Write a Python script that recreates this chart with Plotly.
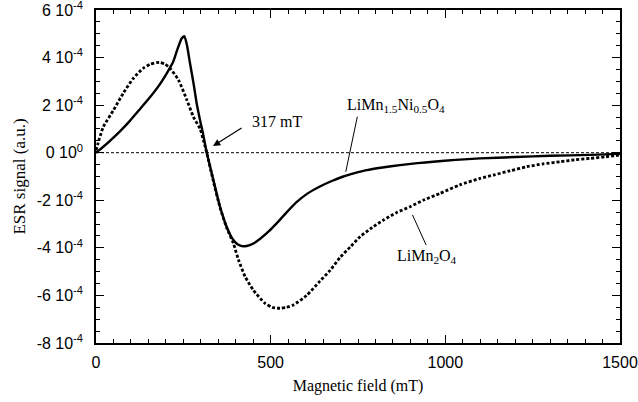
import plotly.graph_objects as go

# LiMn1.5Ni0.5O4 (solid line) - field in mT, signal in units of 1e-4
ni_field = [0, 20, 40, 70, 97, 125, 155, 180, 203, 221, 232, 245, 253, 260, 269, 280, 288,
            300, 306, 317, 327, 336, 355, 374, 390, 405, 418, 431, 450, 470, 495, 517, 545,
            574, 605, 641, 675, 708, 740, 775, 820, 870, 920, 965, 1030, 1099, 1200, 1300,
            1414, 1500]
ni_signal = [0, 0.24, 0.5, 0.92, 1.34, 1.82, 2.34, 2.82, 3.35, 3.82, 4.3, 4.8, 4.9, 4.55,
             3.77, 2.85, 2.09, 1.22, 0.83, 0, -0.6, -1.15, -2.27, -3.11, -3.6, -3.85, -3.93,
             -3.92, -3.82, -3.62, -3.3, -2.97, -2.52, -2.08, -1.72, -1.42, -1.19, -1.0, -0.86,
             -0.73, -0.62, -0.52, -0.44, -0.38, -0.30, -0.24, -0.18, -0.13, -0.09, -0.05]

# LiMn2O4 (dotted line)
mn_field = [0, 10, 21, 50, 78, 107, 135, 155, 174, 183, 198, 212, 236, 260, 279, 298, 308,
            317, 336, 355, 374, 393, 408, 427, 450, 484, 505, 527, 545, 565, 603, 641, 670,
            699, 730, 756, 790, 823, 860, 899, 940, 985, 1042, 1099, 1138, 1185, 1233, 1280,
            1328, 1370, 1414, 1460, 1500]
mn_signal = [0.1, 0.6, 1.09, 1.79, 2.5, 3.13, 3.55, 3.72, 3.79, 3.8, 3.72, 3.55, 3.06, 2.22,
             1.5, 1.0, 0.5, 0, -1.2, -2.3, -3.15, -3.8, -4.51, -5.21, -5.77, -6.33, -6.5,
             -6.54, -6.5, -6.40, -6.0, -5.4, -4.95, -4.4, -3.93, -3.53, -3.15, -2.83, -2.52,
             -2.27, -1.98, -1.71, -1.35, -1.08, -0.94, -0.76, -0.59, -0.47, -0.38, -0.30,
             -0.24, -0.17, -0.1]

y_tick_values = [-8, -6, -4, -2, 0, 2, 4, 6]
y_tick_labels = ["-8 10<sup>-4</sup>", "-6 10<sup>-4</sup>", "-4 10<sup>-4</sup>",
                 "-2 10<sup>-4</sup>", "0 10<sup>0</sup>", "2 10<sup>-4</sup>",
                 "4 10<sup>-4</sup>", "6 10<sup>-4</sup>"]
x_tick_values = [0, 500, 1000, 1500]

def to_signal(v):
    return v / 10000.0

fig = go.Figure()
fig.add_trace(go.Scatter(x=mn_field, y=[to_signal(v) for v in mn_signal], mode="lines",
                         line=dict(color="black", width=2.8, dash="3px,2px",
                                   shape="spline", smoothing=0.6),
                         name="LiMn2O4", showlegend=False))
fig.add_trace(go.Scatter(x=ni_field, y=[to_signal(v) for v in ni_signal], mode="lines",
                         line=dict(color="black", width=2.4, shape="spline", smoothing=0.5),
                         name="LiMn1.5Ni0.5O4", showlegend=False))

# zero reference line
fig.add_shape(type="line", xref="paper", x0=0, x1=1, yref="y", y0=0, y1=0,
              line=dict(color="black", width=1, dash="3px,2px"))

serif = "Liberation Serif"
fig.add_annotation(x=335, y=to_signal(0.28), ax=421, ay=to_signal(1.08), axref="x", ayref="y",
                   text="", showarrow=True, arrowhead=2, arrowsize=1.2, arrowwidth=1.2,
                   arrowcolor="black")
fig.add_annotation(x=440, y=to_signal(1.33), text="317 mT", showarrow=False, xanchor="left",
                   font=dict(family=serif, size=16, color="black"))
fig.add_annotation(x=715, y=to_signal(-0.80), ax=749, ay=to_signal(1.58), axref="x", ayref="y",
                   text="", showarrow=True, arrowhead=0, arrowwidth=1, arrowcolor="black")
fig.add_annotation(x=859, y=to_signal(2.0),
                   text="LiMn<sub>1.5</sub>Ni<sub>0.5</sub>O<sub>4</sub>",
                   showarrow=False, font=dict(family=serif, size=16, color="black"))
fig.add_annotation(x=945, y=to_signal(-3.88), ax=904, ay=to_signal(-2.55), axref="x", ayref="y",
                   text="", showarrow=True, arrowhead=0, arrowwidth=1, arrowcolor="black")
fig.add_annotation(x=948, y=to_signal(-4.35), text="LiMn<sub>2</sub>O<sub>4</sub>",
                   showarrow=False, font=dict(family=serif, size=16, color="black"))

axis_common = dict(showgrid=False, zeroline=False, showline=True, linecolor="black",
                   linewidth=1.5, mirror="allticks", ticks="inside", ticklen=8,
                   tickwidth=1.2, tickcolor="black", automargin=False,
                   ticklabeloverflow="allow")

fig.update_xaxes(range=[0, 1500], tickvals=x_tick_values,
                 minor=dict(dtick=50, ticks="inside", ticklen=4, tickcolor="black", tickwidth=1),
                 tickfont=dict(family="Liberation Sans", size=16, color="black"),
                 ticklabelstandoff=4,
                 title=dict(text="Magnetic field (mT)",
                            font=dict(family=serif, size=16, color="black"), standoff=10),
                 **axis_common)
fig.update_yaxes(range=[-0.0008, 0.0006], tickvals=[to_signal(v) for v in y_tick_values],
                 ticktext=y_tick_labels,
                 minor=dict(dtick=0.00005, tick0=0, ticks="inside", ticklen=4,
                            tickcolor="black", tickwidth=1),
                 tickfont=dict(family="Liberation Sans", size=16, color="black"),
                 ticklabelstandoff=8,
                 title=dict(text="ESR signal (a.u.)",
                            font=dict(family=serif, size=17, color="black"), standoff=7),
                 **axis_common)

fig.update_layout(width=638, height=402, margin=dict(l=96, r=18, t=10, b=59),
                  plot_bgcolor="white", paper_bgcolor="white")

fig.write_html("out.html", config={"displayModeBar": False},
               post_script="document.body.style.margin='0';")
